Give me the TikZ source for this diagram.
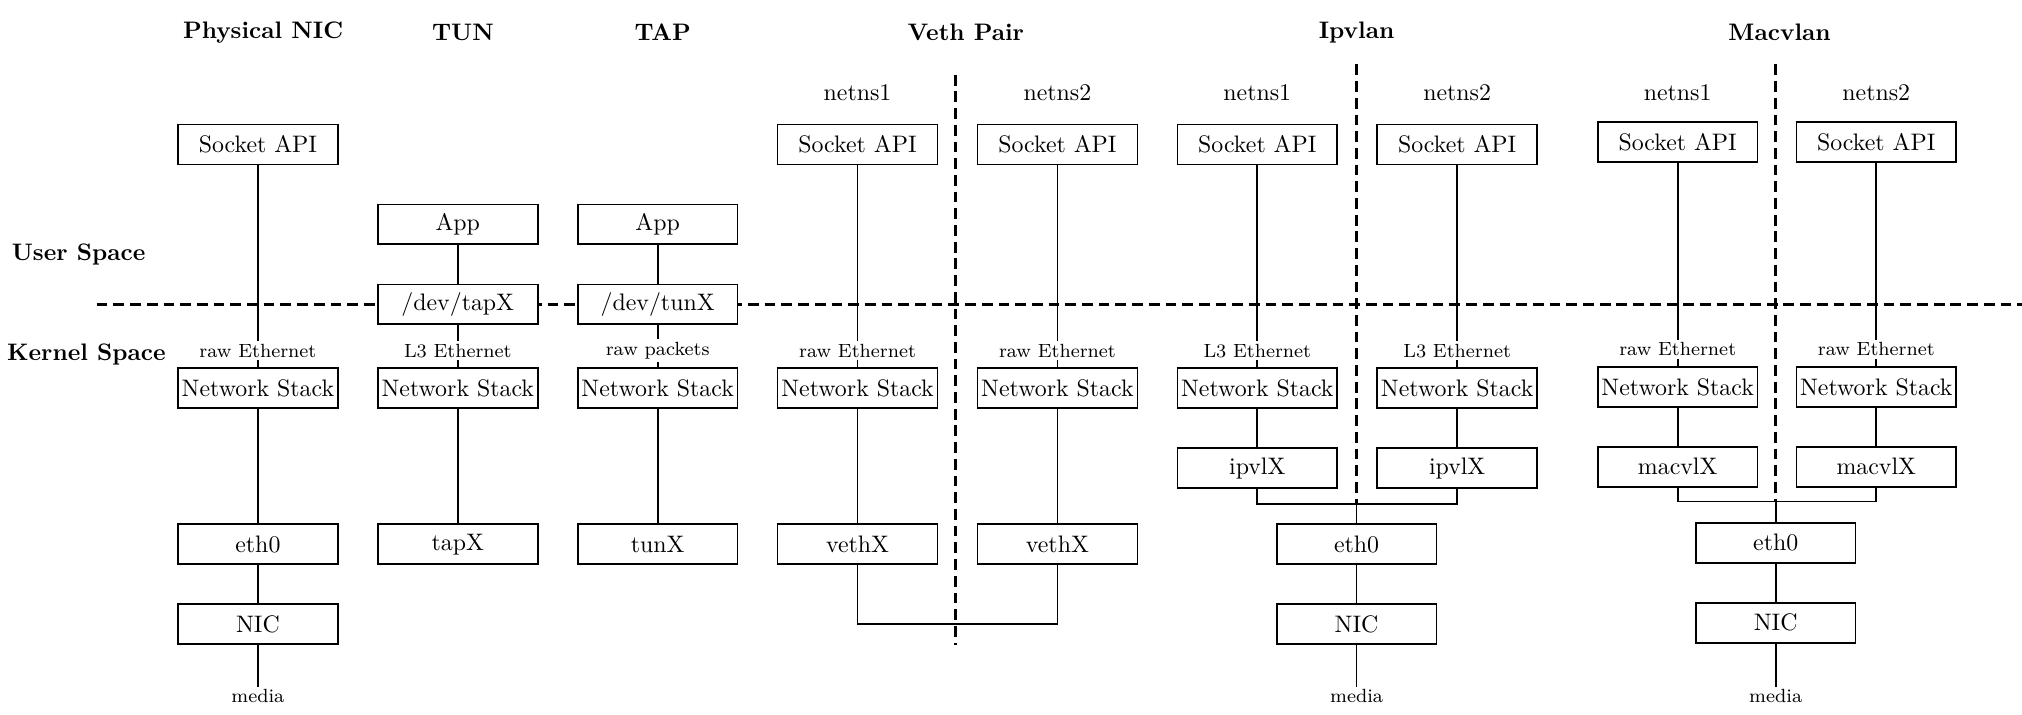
\documentclass[tikz,border=0pt]{standalone}
\usepackage{tikz}

\begin{document}
\begin{tikzpicture}[x=0.019cm,y=-0.019cm,
        dev/.style={draw, fill=white, line width=0.7pt, minimum width=67pt, minimum height=16.7pt, inner sep=1pt},
        proto/.style={font=\footnotesize, inner sep=1pt},
        coltitle/.style={font=\bfseries},
        link/.style={line width=0.7pt},
        lane/.style={line width=1.1pt, dash pattern=on 4.5pt off 2.5pt}]
        \useasboundingbox (0,0) rectangle (1568,554);
        % space separators
        \coordinate (US) at (75,236);
        \coordinate (UE) at (1568,236);
        \draw[lane] (US) -- (UE);
        \coordinate (vethtop) at (741,58);
        \coordinate (vethbot) at (741,500);
        \draw[lane] (vethtop) -- (vethbot);
        \node at (61,197) {\bfseries User Space};
        \node at (67,275) {\bfseries Kernel Space};

        % titles
        \node[coltitle] at (204,25) {Physical NIC};
        \node[coltitle] at (359,25) {TUN};
        \node[coltitle] at (514,25) {TAP};
        \node[coltitle] at (749,25) {Veth Pair};
        \node[coltitle] at (1052,25) {Ipvlan};
        \node[coltitle] at (1380,25) {Macvlan};

        % Physical NIC
        \node[dev] (sockN) at (200,112) {Socket API};
        \node[proto] (protoN) at (200,272) {raw Ethernet};
        \node[dev] (stackN) at (200,301) {Network Stack};
        \node[dev] (ethN) at (200,422) {eth0};
        \node[dev] (cardN) at (200,484) {NIC};
        \node[proto] (mediaN) at (200,540) {media};
        \draw[link] (sockN) -- (protoN) -- (stackN) -- (ethN) -- (cardN) -- (mediaN);

        % TUN
        \node[dev] (appT) at (355,174) {App};
        \node[dev] (devT) at (355,236) {/dev/tapX};
        \node[proto] (protoT) at (355,272) {L3 Ethernet};
        \node[dev] (stackT) at (355,301) {Network Stack};
        \node[dev] (ifT) at (355,422) {tapX};
        \draw[link] (appT) -- (devT) -- (protoT) -- (stackT) -- (ifT);

        % TAP
        \node[dev] (appP) at (510,174) {App};
        \node[dev] (devP) at (510,236) {/dev/tunX};
        \node[proto] (protoP) at (510,272) {raw packets};
        \node[dev] (stackP) at (510,301) {Network Stack};
        \node[dev] (ifP) at (510,422) {tunX};
        \draw[link] (appP) -- (devP) -- (protoP) -- (stackP) -- (ifP);

        % Veth Pair
        \node (nsVA) at (665,72) {netns1};
        \node (nsVB) at (820,72) {netns2};
        \node[dev] (sockVA) at (665,112) {Socket API};
        \node[dev] (sockVB) at (820,112) {Socket API};
        \node[proto] (protoVA) at (665,272) {raw Ethernet};
        \node[proto] (protoVB) at (820,272) {raw Ethernet};
        \node[dev] (stackVA) at (665,301) {Network Stack};
        \node[dev] (stackVB) at (820,301) {Network Stack};
        \node[dev] (vethA) at (665,422) {vethX};
        \node[dev] (vethB) at (820,422) {vethX};
        \coordinate (vethlink) at (741,484);
        \draw[link] (sockVA) -- (protoVA) -- (stackVA) -- (vethA);
        \draw[link] (sockVB) -- (protoVB) -- (stackVB) -- (vethB);
        \draw[link] (vethA.south) |- (vethlink) -| (vethB.south);

        % Ipvlan
        \coordinate (iptop) at (1052,50);
        \coordinate (ipjoin) at (1052,391);
        \draw[lane] (iptop) -- (ipjoin);
        \node (nsIA) at (975,72) {netns1};
        \node (nsIB) at (1130,72) {netns2};
        \node[dev] (sockIA) at (975,112) {Socket API};
        \node[dev] (sockIB) at (1130,112) {Socket API};
        \node[proto] (protoIA) at (975,272) {L3 Ethernet};
        \node[proto] (protoIB) at (1130,272) {L3 Ethernet};
        \node[dev] (stackIA) at (975,301) {Network Stack};
        \node[dev] (stackIB) at (1130,301) {Network Stack};
        \node[dev] (ipvlA) at (975,363) {ipvlX};
        \node[dev] (ipvlB) at (1130,363) {ipvlX};
        \node[dev] (ethI) at (1052,422) {eth0};
        \node[dev] (cardI) at (1052,484) {NIC};
        \node[proto] (mediaI) at (1052,540) {media};
        \draw[link] (sockIA) -- (protoIA) -- (stackIA) -- (ipvlA);
        \draw[link] (sockIB) -- (protoIB) -- (stackIB) -- (ipvlB);
        \draw[link] (ipvlA.south) |- (ipjoin) -| (ipvlB.south);
        \draw[link] (ipjoin) -- (ethI) -- (cardI) -- (mediaI);

        % Macvlan
        \coordinate (mactop) at (1377,50);
        \coordinate (macjoin) at (1377,389);
        \draw[lane] (mactop) -- (macjoin);
        \node (nsMA) at (1301,72) {netns1};
        \node (nsMB) at (1455,72) {netns2};
        \node[dev] (sockMA) at (1301,110) {Socket API};
        \node[dev] (sockMB) at (1455,110) {Socket API};
        \node[proto] (protoMA) at (1301,271) {raw Ethernet};
        \node[proto] (protoMB) at (1455,271) {raw Ethernet};
        \node[dev] (stackMA) at (1301,300) {Network Stack};
        \node[dev] (stackMB) at (1455,300) {Network Stack};
        \node[dev] (macvlA) at (1301,362) {macvlX};
        \node[dev] (macvlB) at (1455,362) {macvlX};
        \node[dev] (ethM) at (1377,421) {eth0};
        \node[dev] (cardM) at (1377,483) {NIC};
        \node[proto] (mediaM) at (1377,540) {media};
        \draw[link] (sockMA) -- (protoMA) -- (stackMA) -- (macvlA);
        \draw[link] (sockMB) -- (protoMB) -- (stackMB) -- (macvlB);
        \draw[link] (macvlA.south) |- (macjoin) -| (macvlB.south);
        \draw[link] (macjoin) -- (ethM) -- (cardM) -- (mediaM);
    \end{tikzpicture}
\end{document}
